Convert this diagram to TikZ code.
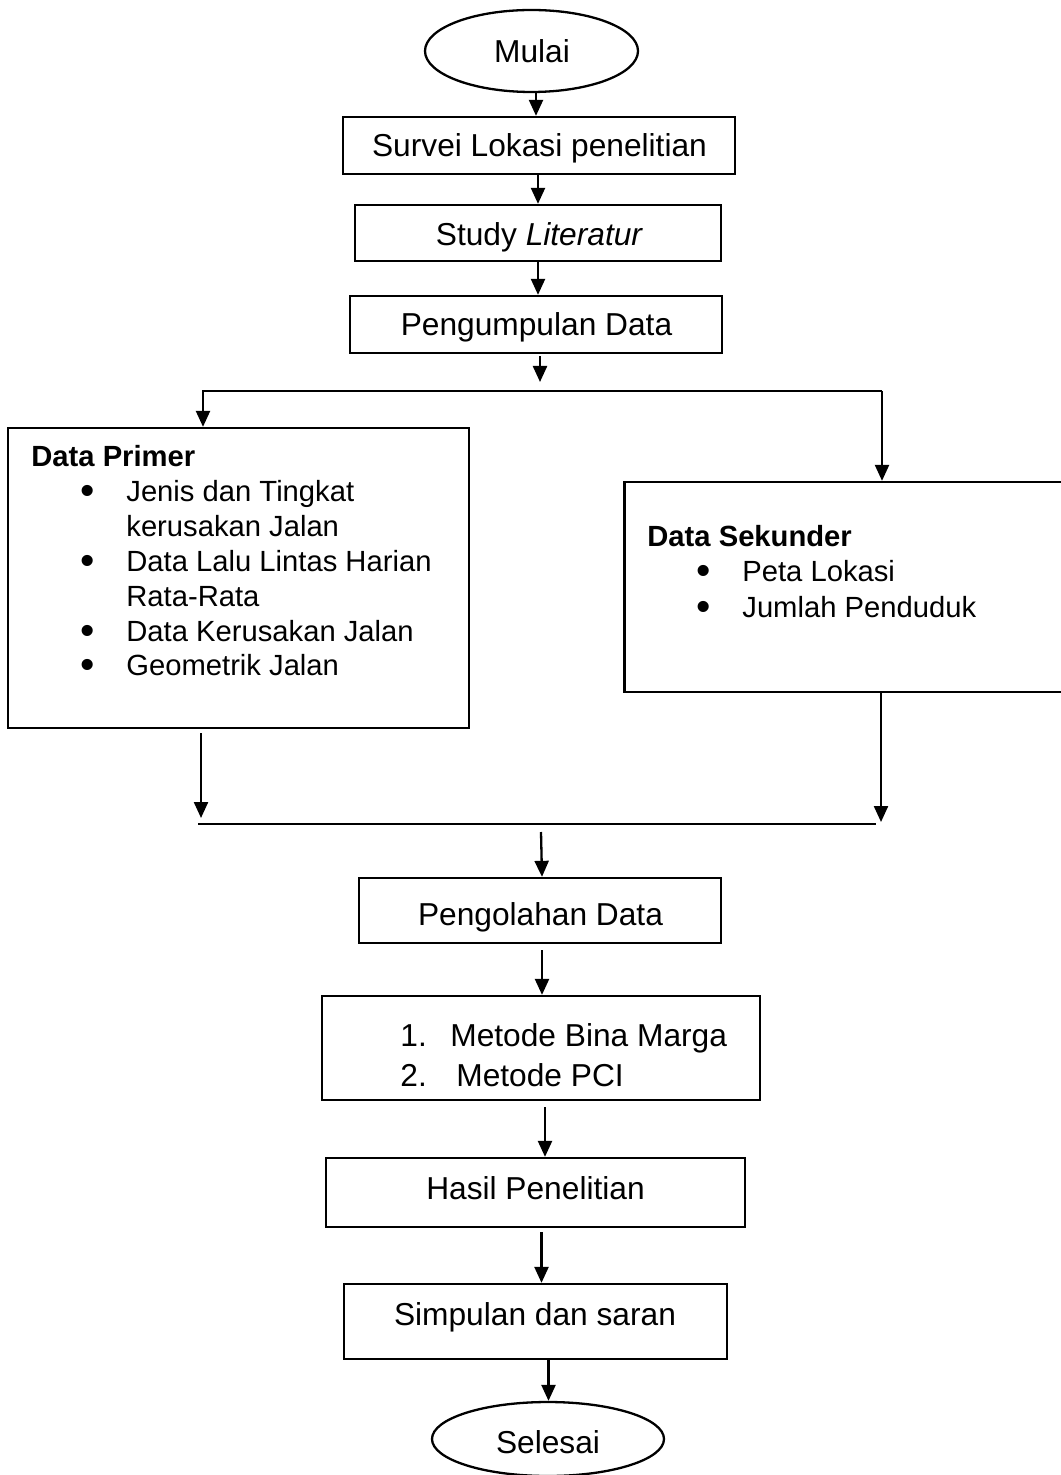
\documentclass[tikz,border=0pt]{standalone}
\usepackage{fontspec}
\usepackage{graphicx}
\setmainfont{Liberation Sans}
\usetikzlibrary{arrows.meta,shapes.geometric,calc}
\newcommand{\bul}{\smash{\raisebox{-1.5pt}{\scalebox{1.4}{•}}}}
\begin{document}
\begin{tikzpicture}[x=0.5pt,y=-0.5pt,
  every node/.style={font=\fontsize{15.85pt}{17.5pt}\selectfont},
  box/.style={draw, line width=1.15pt, rectangle, inner sep=0pt},
  oval/.style={draw, line width=1.15pt, ellipse, inner sep=0pt},
  arr/.style={line width=1.15pt, -{Triangle[width=7pt,length=8pt]}},
  ln/.style={line width=1.15pt},
  txt/.style={inner sep=0pt, anchor=base west},
  ctx/.style={inner sep=0pt, anchor=base}]
\useasboundingbox (0,0) rectangle (1060,1475);

\node[oval, minimum width=106.5pt, minimum height=41pt] (mulai) at (531.5,51) {};
\node[box, minimum width=196pt, minimum height=28.5pt] (survei) at (539,145.5) {};
\node[box, minimum width=183pt, minimum height=28pt] (study) at (538,233) {};
\node[box, minimum width=186pt, minimum height=28.5pt] (peng) at (536,324.5) {};
\node[box, minimum width=230.5pt, minimum height=150pt] (primer) at (238.5,578) {};
\node[box, minimum width=219pt, minimum height=105pt] (sekunder) at (843.5,587) {};
\node[box, minimum width=181pt, minimum height=32.5pt] (olah) at (540,910.5) {};
\node[box, minimum width=219pt, minimum height=52pt] (metode) at (541,1048) {};
\node[box, minimum width=209.5pt, minimum height=34.5pt] (hasil) at (535.5,1192.5) {};
\node[box, minimum width=191.5pt, minimum height=37.5pt] (simpul) at (535.5,1321.5) {};
\node[oval, minimum width=116pt, minimum height=37pt] (selesai) at (548,1439) {};

\node[ctx] (mulaitxt) at (532,62.5) {Mulai};
\node[ctx] (surveitxt) at (539.5,157) {Survei Lokasi penelitian};
\node[ctx] (studytxt) at (539.5,246) {Study \textit{Literatur}};
\node[ctx] (pengtxt) at (536.5,336) {Pengumpulan Data};
\node[ctx] (olahtxt) at (540.5,925) {Pengolahan Data};
\node[ctx] (hasiltxt) at (535.5,1199) {Hasil Penelitian};
\node[ctx] (simpultxt) at (535,1325) {Simpulan dan saran};
\node[ctx] (selesaitxt) at (548,1453) {Selesai};

\node[txt, font=\fontsize{14.6pt}{17.45pt}\selectfont] (primertxt) at (31,466.5) {\begin{tabular}[t]{@{}l@{}}
\textbf{Data Primer}\\
\hspace*{24.5pt}\makebox[23pt][l]{\bul}Jenis dan Tingkat\\
\hspace*{47.5pt}kerusakan Jalan\\
\hspace*{24.5pt}\makebox[23pt][l]{\bul}Data Lalu Lintas Harian\\
\hspace*{47.5pt}Rata-Rata\\
\hspace*{24.5pt}\makebox[23pt][l]{\bul}Data Kerusakan Jalan\\
\hspace*{24.5pt}\makebox[23pt][l]{\bul}Geometrik Jalan
\end{tabular}};

\node[txt, font=\fontsize{14.6pt}{17.75pt}\selectfont] (sekundertxt) at (647,546) {\begin{tabular}[t]{@{}l@{}}
\textbf{Data Sekunder}\\
\hspace*{24.5pt}\makebox[23pt][l]{\bul}Peta Lokasi\\
\hspace*{24.5pt}\makebox[23pt][l]{\bul}Jumlah Penduduk
\end{tabular}};

\node[txt, font=\fontsize{15.85pt}{20pt}\selectfont] (metodetxt) at (400,1046) {\begin{tabular}[t]{@{}l@{}}
\makebox[25pt][l]{1.}Metode Bina Marga\\
\makebox[28pt][l]{2.}Metode PCI
\end{tabular}};

\draw[arr] ([xshift=2.25pt]mulai.south) -- ([xshift=-1.5pt]survei.north);
\draw[arr] ([xshift=-0.5pt]survei.south) -- (study.north);
\draw[arr] (study.south) -- ([xshift=1pt]peng.north);
\coordinate (pe) at (540,382);
\draw[arr, shorten <=1pt] ([xshift=2pt]peng.south) -- (pe);

\coordinate (sl) at (203,391);
\coordinate (sr) at (882,391);
\draw[arr] (sr) -- (sl) -- (primer.north -| sl);
\draw[arr] (sr) -- (sekunder.north -| sr);

\coordinate (al) at (201,818);
\coordinate (ar) at (881,822);
\coordinate (jl) at (198,824);
\coordinate (jr) at (876,824);
\draw[arr, shorten <=2pt] (primer.south -| al) -- (al);
\draw[arr] (sekunder.south -| ar) -- (ar);
\draw[ln] (jl) -- (jr);
\coordinate (jm) at (541,832);
\draw[arr] (jm) -- ([xshift=1pt]olah.north);
\draw[arr, shorten <=3pt] ([xshift=1pt]olah.south) -- ([xshift=0.5pt]metode.north);
\draw[arr, shorten <=3pt] ([xshift=2pt]metode.south) -- ([xshift=4.75pt]hasil.north);
\draw[arr, shorten <=2pt] ([xshift=3pt]hasil.south) -- ([xshift=3pt]simpul.north);
\draw[arr] ([xshift=6.5pt]simpul.south) -- ([xshift=0.25pt]selesai.north);
\end{tikzpicture}
\end{document}
